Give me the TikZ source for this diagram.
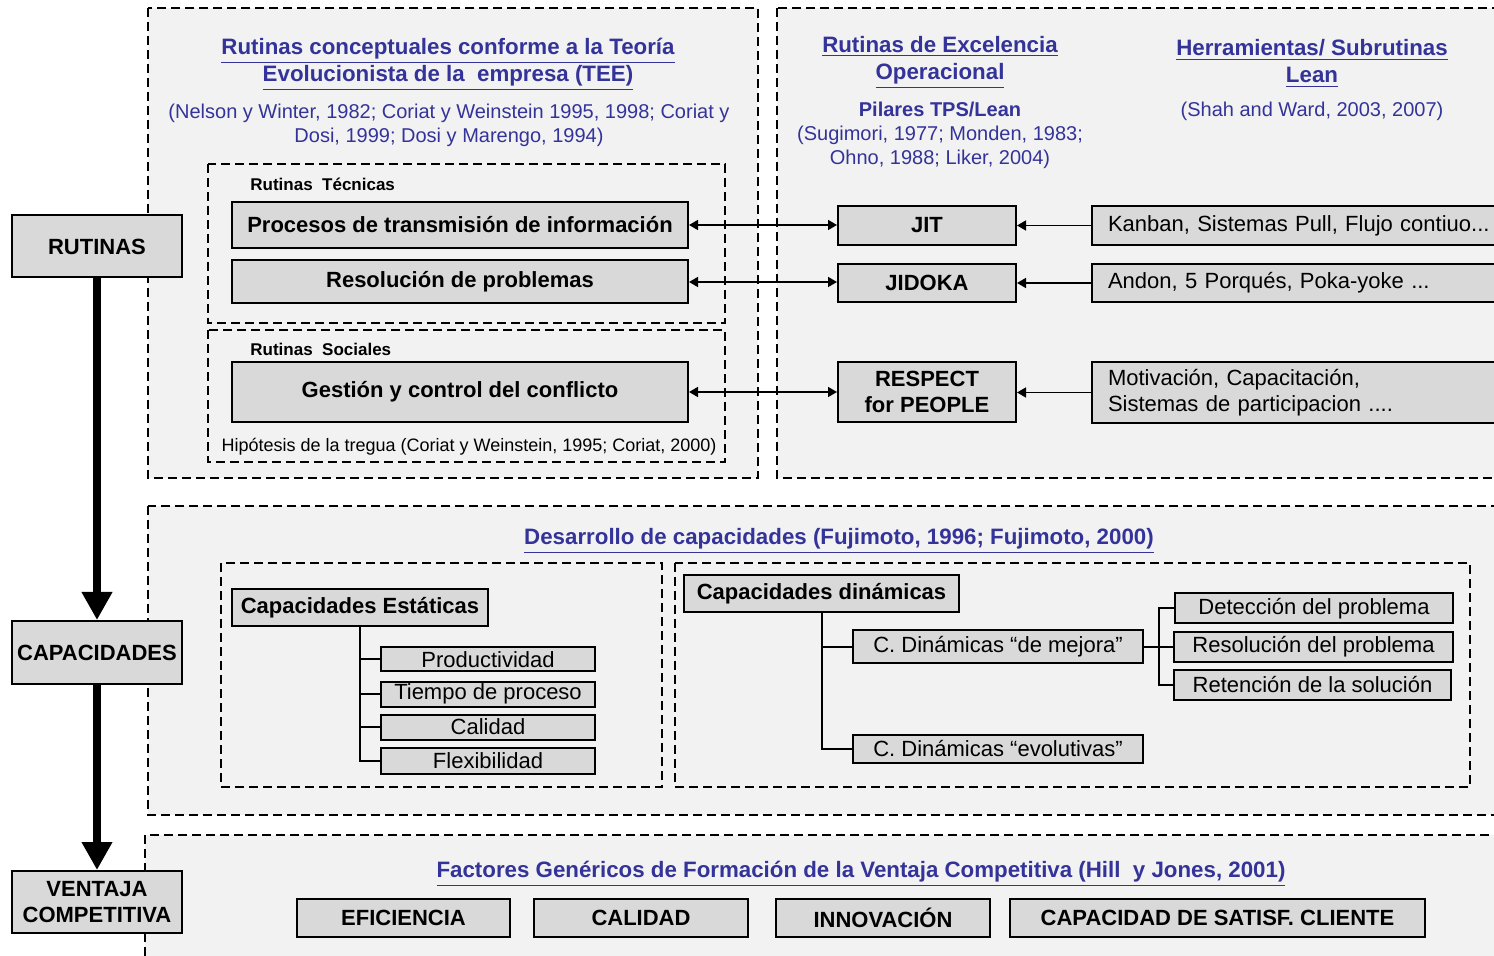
\documentclass[tikz,border=0pt]{standalone}
\usepackage{fontspec}
\setmainfont{Liberation Sans}
\usetikzlibrary{arrows.meta}
\definecolor{refblue}{RGB}{51,51,153}
\definecolor{panel}{RGB}{242,242,242}
\definecolor{boxgray}{RGB}{217,217,217}

\begin{document}
\begin{tikzpicture}[x=0.5pt,y=-0.5pt,
  panelbox/.style={draw=black, fill=panel, line width=0.9pt, dash pattern=on 4.5pt off 2.5pt},
  subpanel/.style={draw=black, line width=0.9pt, dash pattern=on 4.5pt off 2.5pt},
  gbox/.style={draw=black, fill=boxgray, line width=1pt, inner sep=0pt, align=center,
    font=\fontsize{11}{13}\selectfont\bfseries},
  rbox/.style={gbox, font=\fontsize{11}{13}\selectfont},
  tbox/.style={rbox, align=left, text width=218pt, inner xsep=8pt},
  titletext/.style={text=refblue, align=center, inner sep=0pt,
    font=\fontsize{11.15}{13.5}\selectfont\bfseries},
  cite/.style={text=refblue, align=center, inner sep=0pt,
    font=\fontsize{10}{12}\selectfont},
  citebold/.style={cite, font=\fontsize{10}{12}\selectfont\bfseries},
  lbl/.style={inner sep=0pt, font=\fontsize{8.5}{10}\selectfont\bfseries},
  note/.style={inner sep=0pt, font=\fontsize{9}{10}\selectfont},
  bigarrow/.style={line width=4pt, -{Triangle[length=14pt,width=14.5pt]}},
  link/.style={line width=0.8pt, -{Triangle[length=4.5pt,width=5pt]}},
  dlink/.style={line width=0.8pt, {Triangle[length=4.5pt,width=5pt]}-{Triangle[length=4.5pt,width=5pt]}},
  tree/.style={line width=1pt}
]
\clip (0,0) rectangle (1494,956);
\fill[white] (0,0) rectangle (1494,956);

% ---------- dashed panels ----------
\path[panelbox] (148,8) rectangle (758,478);
\path[panelbox] (777,8) rectangle (1530,478);
\path[panelbox] (148,506) rectangle (1530,815);
\path[panelbox] (145,835) rectangle (1530,990);
\draw[subpanel] (208,164) rectangle (725,323);
\draw[subpanel] (208,330) rectangle (725,462);
\draw[subpanel] (221,563) rectangle (662,787);
\draw[subpanel] (675,563) rectangle (1470,787);

% ---------- left column ----------
\node[gbox, minimum width=85pt, minimum height=31pt] (rut) at (97,246.5) {RUTINAS};
\node[gbox, minimum width=85pt, minimum height=31.5pt] (cap) at (97,652.5) {CAPACIDADES};
\node[gbox, minimum width=85pt, minimum height=31pt] (ven) at (97,902) {VENTAJA\\COMPETITIVA};
\draw[bigarrow] (rut.south) -- (cap.north);
\draw[bigarrow] (cap.south) -- (ven.north);

% ---------- routines panel ----------
\node[titletext] (tTEE) at (448,64.5) {\underline{Rutinas conceptuales conforme a la Teoría}\\\underline{Evolucionista de la\ \ empresa (TEE)}};
\node[cite] (cTEE) at (449,125) {(Nelson y Winter, 1982; Coriat y Weinstein 1995, 1998; Coriat y\\Dosi, 1999; Dosi y Marengo, 1994)};
\node[lbl, anchor=west] (lTec) at (250,184) {Rutinas\ \ Técnicas};
\node[lbl, anchor=west] (lSoc) at (250,349) {Rutinas\ \ Sociales};
\node[gbox, minimum width=228pt, minimum height=23pt] (proc) at (460,225) {Procesos de transmisión de información};
\node[gbox, minimum width=228pt, minimum height=21.5pt] (reso) at (460,282) {Resolución de problemas};
\node[gbox, minimum width=228pt, minimum height=30pt] (gest) at (460,392) {Gestión y control del conflicto};
\node[note] (nTre) at (469,447) {Hipótesis de la tregua (Coriat y Weinstein, 1995; Coriat, 2000)};

% ---------- lean panel ----------
\node[titletext] (tExc) at (940,62.5) {\underline{Rutinas de Excelencia}\\\underline{Operacional}};
\node[citebold] (tPil) at (940,109) {Pilares TPS/Lean};
\node[cite] (cPil) at (940,147) {(Sugimori, 1977; Monden, 1983;\\Ohno, 1988; Liker, 2004)};
\node[titletext] (tHer) at (1312,63.5) {\underline{Herramientas/ Subrutinas}\\\underline{Lean}};
\node[cite] (cHer) at (1312,111) {(Shah and Ward, 2003, 2007)};

\node[gbox, minimum width=89pt, minimum height=19.5pt] (jit) at (927,225.5) {JIT};
\node[gbox, minimum width=89pt, minimum height=19pt] (jid) at (927,283) {JIDOKA};
\node[gbox, minimum width=89pt, minimum height=30pt] (resp) at (927,392) {RESPECT\\for PEOPLE};
\node[tbox, minimum height=19.5pt] (kan) at (1326,225.5) {Kanban, Sistemas Pull, Flujo contiuo...};
\node[tbox, minimum height=19pt] (and) at (1326,283) {Andon, 5 Porqués, Poka-yoke ...};
\node[tbox, minimum height=30.5pt] (mot) at (1326,392.5) {Motivación, Capacitación,\\Sistemas de participacion ....};

\draw[dlink] (proc.east) -- (proc.east -| jit.west);
\draw[dlink] (reso.east) -- (reso.east -| jid.west);
\draw[dlink] (gest.east) -- (resp.west);
\draw[link] (kan.west) -- (jit.east);
\draw[link] (and.west) -- (jid.east);
\draw[link] (mot.west) -- (mot.west -| resp.east);

% ---------- capabilities panel ----------
\node[titletext] (tCap) at (839,541) {\underline{Desarrollo de capacidades (Fujimoto, 1996; Fujimoto, 2000)}};
\node[gbox, minimum width=128pt, minimum height=18.5pt] (est) at (360,607.5) {Capacidades Estáticas};
\node[rbox, minimum width=107pt, minimum height=12pt] (prod) at (488,659.5) {Productividad};
\node[rbox, minimum width=107pt, minimum height=12.5pt] (tiem) at (488,694) {Tiempo de proceso};
\node[rbox, minimum width=107pt, minimum height=12.5pt] (cali) at (488,727) {Calidad};
\node[rbox, minimum width=107pt, minimum height=13pt] (flex) at (488,760.5) {Flexibilidad};
\draw[tree] (est.south) |- (prod.west);
\draw[tree] (est.south) |- (tiem.west);
\draw[tree] (est.south) |- (cali.west);
\draw[tree] (est.south) |- (flex.west);

\node[gbox, minimum width=137.5pt, minimum height=18.5pt] (din) at (821.5,594) {Capacidades dinámicas};
\node[rbox, minimum width=145pt, minimum height=16.5pt] (mej) at (998,647) {C. Dinámicas “de mejora”};
\node[rbox, minimum width=145pt, minimum height=14pt] (evo) at (998,748.5) {C. Dinámicas “evolutivas”};
\node[rbox, minimum width=139pt, minimum height=15pt] (det) at (1314,608.5) {Detección del problema};
\node[rbox, minimum width=139.5pt, minimum height=15pt] (res) at (1313.5,647) {Resolución del problema};
\node[rbox, minimum width=138.5pt, minimum height=14.5pt] (ret) at (1312.5,685) {Retención de la solución};
\draw[tree] (din.south) |- (mej.west);
\draw[tree] (din.south) |- (evo.west);
\path (mej.east) ++(15,0) coordinate (mb);
\draw[tree] (mej.east) -- (mb);
\draw[tree] (mb) |- (det.west);
\draw[tree] (mb) |- (res.west);
\draw[tree] (mb) |- (ret.west);

% ---------- competitive advantage panel ----------
\node[titletext] (tVen) at (861,874) {\underline{Factores Genéricos de Formación de la Ventaja Competitiva (Hill\ \ y Jones, 2001)}};
\node[gbox, minimum width=106.5pt, minimum height=19pt] (efi) at (403.5,917.5) {EFICIENCIA};
\node[gbox, minimum width=107pt, minimum height=19pt] (cal) at (641,917.5) {CALIDAD};
\node[gbox, minimum width=107pt, minimum height=19pt] (inn) at (883,917.5) {INNOVACIÓN};
\node[gbox, minimum width=207.5pt, minimum height=19pt] (sat) at (1217.5,917.5) {CAPACIDAD DE SATISF. CLIENTE};
\end{tikzpicture}
\end{document}
